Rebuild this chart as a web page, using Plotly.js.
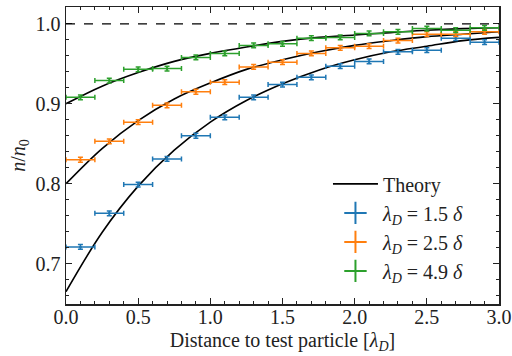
<!DOCTYPE html>
<html>
<head>
<meta charset="utf-8">
<script src="https://cdn.plot.ly/plotly-3.0.1.min.js"></script>
<style>html,body{margin:0;padding:0;background:#fff;}#chart{width:512px;height:356px;}</style>
</head>
<body>
<div id="chart"></div>
<script>
// Simulation bin centres and half-widths
const binX = [0.1,0.3,0.5,0.7,0.9,1.1,1.3,1.5,1.7,1.9,2.1,2.3,2.5,2.7,2.9];
const binHalfWidth = 0.1;

// lambda_D = 1.5 delta
const blueY = [0.721,0.763,0.799,0.831,0.860,0.883,0.908,0.924,0.933,0.947,0.953,0.965,0.967,0.982,0.977];
const blueErr = [0.003,0.003,0.003,0.003,0.003,0.003,0.003,0.003,0.003,0.003,0.003,0.003,0.003,0.003,0.003];
// lambda_D = 2.5 delta
const orangeY = [0.830,0.853,0.877,0.898,0.915,0.927,0.946,0.952,0.963,0.970,0.972,0.979,0.987,0.987,0.990];
const orangeErr = [0.003,0.003,0.003,0.003,0.003,0.003,0.003,0.003,0.003,0.003,0.003,0.003,0.003,0.003,0.003];
// lambda_D = 4.9 delta
const greenY = [0.908,0.929,0.943,0.944,0.958,0.963,0.973,0.975,0.982,0.983,0.988,0.990,0.994,0.992,0.995];
const greenErr = [0.003,0.003,0.003,0.003,0.003,0.003,0.003,0.003,0.003,0.003,0.003,0.003,0.003,0.003,0.003];

// Theory curves
const theoryX = [0,0.25,0.5,0.75,1.0,1.25,1.5,1.75,2.0,2.25,2.5,2.75,3.0];
const theoryBlue = [0.665,0.739,0.797,0.842,0.877,0.904,0.925,0.942,0.955,0.965,0.972,0.979,0.983];
const theoryOrange = [0.800,0.844,0.879,0.906,0.926,0.943,0.955,0.965,0.973,0.979,0.984,0.987,0.990];
const theoryGreen = [0.900,0.922,0.939,0.953,0.963,0.971,0.978,0.983,0.986,0.989,0.992,0.994,0.995];

const referenceLevel = 1.0;
const seriesNames = ['<i>λ</i><sub><i>D</i></sub> = 1.5 <i>δ</i>','<i>λ</i><sub><i>D</i></sub> = 2.5 <i>δ</i>','<i>λ</i><sub><i>D</i></sub> = 4.9 <i>δ</i>'];
const colors = ['#1f77b4','#ff7f0e','#2ca02c'];

const FONT = 'Liberation Serif, DejaVu Serif, serif';
const FS = 20;
const traces = [];
[theoryBlue, theoryOrange, theoryGreen].forEach((ty,i)=>{
  traces.push({x:theoryX, y:ty, mode:'lines', line:{color:'#000',width:1.6,shape:'spline'},
    name:'Theory', showlegend:i===0, hoverinfo:'skip'});
});
[[blueY,blueErr],[orangeY,orangeErr],[greenY,greenErr]].forEach(([ys,es],i)=>{
  traces.push({x:binX, y:ys, mode:'markers', marker:{size:3,color:colors[i],opacity:0.85},
    error_x:{type:'constant',value:binHalfWidth,color:colors[i],thickness:1.5,width:2.5},
    error_y:{type:'data',array:es,color:colors[i],thickness:1.5,width:2.5},
    showlegend:false, name:seriesNames[i]});
});
// legend-only entries with cross glyphs
seriesNames.forEach((n,i)=>{
  traces.push({x:[null], y:[null], mode:'markers', name:n,
    marker:{symbol:'cross-thin-open',size:20,color:colors[i],line:{color:colors[i],width:2}}});
});

const layout = {
  width:512, height:356,
  margin:{l:66,r:13,t:7,b:52},
  paper_bgcolor:'#fff', plot_bgcolor:'#fff',
  font:{family:FONT, size:FS, color:'#222'},
  showlegend:true,
  legend:{x:0.605, y:0.47, xanchor:'left', yanchor:'top', bgcolor:'rgba(0,0,0,0)',
    font:{family:FONT,size:FS,color:'#222'}, itemwidth:45, tracegroupgap:0},
  xaxis:{range:[0,3], dtick:0.5, tick0:0, tickformat:'.1f', ticks:'inside', ticklen:6, tickwidth:1.2,
    tickcolor:'#222', showline:true, linecolor:'#222', linewidth:1.5, mirror:'allticks',
    showgrid:false, zeroline:false, ticklabelstandoff:-6,
    minor:{dtick:0.1, tick0:0, ticks:'inside', ticklen:3, tickwidth:1, tickcolor:'#222', showgrid:false},
    title:{text:'Distance to test particle [<i>λ</i><sub><i>D</i></sub>]', font:{family:FONT,size:FS,color:'#222'}, standoff:6},
    tickfont:{family:FONT,size:FS,color:'#222'}},
  yaxis:{range:[0.6496,1.021], dtick:0.1, tick0:0, tickformat:'.1f', ticks:'inside', ticklen:6, tickwidth:1.2,
    tickcolor:'#222', showline:true, linecolor:'#222', linewidth:1.5, mirror:'allticks',
    showgrid:false, zeroline:false,
    minor:{dtick:0.02, tick0:0, ticks:'inside', ticklen:3, tickwidth:1, tickcolor:'#222', showgrid:false},
    title:{text:'<i>n</i>/<i>n</i><sub>0</sub>', font:{family:FONT,size:FS,color:'#222'}, standoff:4},
    tickfont:{family:FONT,size:FS,color:'#222'}},
  shapes:[{type:'line', xref:'paper', x0:0, x1:1, yref:'y', y0:referenceLevel, y1:referenceLevel,
    line:{color:'#000', width:1.3, dash:'dash'}}]
};
Plotly.newPlot('chart', traces, layout, {displayModeBar:false, staticPlot:true});
</script>
</body>
</html>
